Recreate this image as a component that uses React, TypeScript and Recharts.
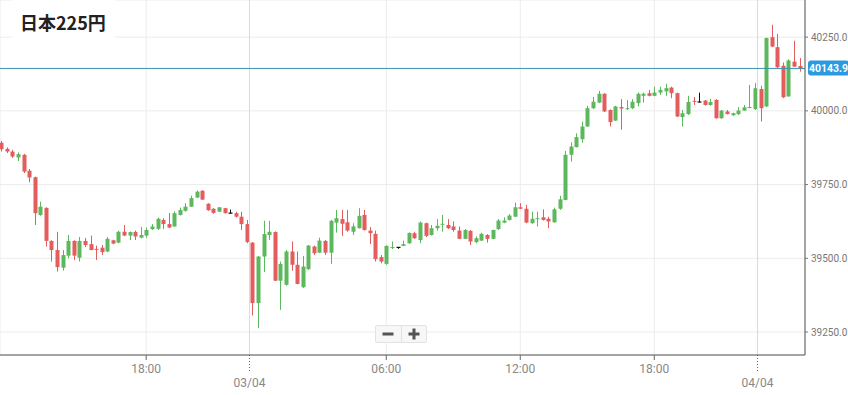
import React from 'react';
import { ComposedChart, Bar, XAxis, YAxis, CartesianGrid, ReferenceLine } from 'recharts';

// 15-minute candles
const opens = [
  39892, 39871, 39862, 39842, 39851, 39797, 39775, 39647, 39671, 39559,
  39528, 39468, 39509, 39559, 39502, 39559, 39548, 39532, 39536, 39523,
  39561, 39553, 39590, 39577, 39589, 39570, 39577, 39599, 39600, 39630,
  39616, 39608, 39647, 39661, 39675, 39706, 39729, 39685, 39668, 39658,
  39670, 39653, 39653, 39641, 39616, 39553, 39348, 39506, 39579, 39589,
  39424, 39410, 39523, 39478, 39402, 39463, 39540, 39519, 39559, 39519,
  39621, 39633, 39622, 39590, 39602, 39647, 39594, 39583, 39504, 39481,
  39536, 39537, 39542, 39551, 39585, 39562, 39619, 39579, 39602, 39616,
  39613, 39608, 39594, 39566, 39593, 39555, 39560, 39579, 39566, 39599,
  39621, 39630, 39641, 39673, 39668, 39619, 39633, 39639, 39634, 39622,
  39668, 39698, 39851, 39877, 39904, 39947, 40009, 40028, 40058, 40003,
  39967, 40013, 40006, 40009, 40026, 40051, 40060, 40051, 40062, 40066,
  40079, 40060, 39979, 39989, 40034, 40030, 40035, 40020, 40037, 39975,
  39998, 39985, 39989, 40001, 40010, 40006, 40074, 40015, 40250, 40216,
  40153, 40049, 40167, 40152,
];
const highs = [
  39898, 39876, 39868, 39859, 39854, 39803, 39777, 39692, 39673, 39561,
  39590, 39528, 39579, 39561, 39572, 39569, 39577, 39543, 39545, 39572,
  39563, 39594, 39613, 39591, 39594, 39606, 39604, 39616, 39638, 39636,
  39653, 39659, 39672, 39687, 39712, 39730, 39731, 39687, 39670, 39674,
  39671, 39665, 39658, 39658, 39630, 39555, 39508, 39627, 39627, 39591,
  39489, 39528, 39557, 39523, 39508, 39545, 39543, 39570, 39562, 39630,
  39664, 39664, 39664, 39619, 39670, 39664, 39606, 39594, 39511, 39544,
  39557, 39538, 39560, 39588, 39590, 39625, 39621, 39613, 39633, 39647,
  39633, 39625, 39608, 39599, 39596, 39574, 39587, 39582, 39597, 39633,
  39639, 39650, 39689, 39687, 39681, 39658, 39658, 39666, 39641, 39672,
  39712, 39864, 39893, 39924, 39964, 40017, 40047, 40068, 40060, 40005,
  40017, 40040, 40037, 40040, 40062, 40062, 40071, 40082, 40082, 40092,
  40082, 40062, 40003, 40051, 40047, 40062, 40037, 40041, 40040, 40003,
  40003, 39994, 40013, 40020, 40088, 40094, 40085, 40249, 40292, 40261,
  40164, 40175, 40238, 40179,
];
const lows = [
  39862, 39857, 39840, 39830, 39789, 39758, 39613, 39644, 39540, 39489,
  39455, 39458, 39500, 39494, 39489, 39538, 39527, 39494, 39511, 39521,
  39548, 39551, 39575, 39562, 39562, 39568, 39570, 39596, 39596, 39599,
  39603, 39607, 39645, 39658, 39674, 39705, 39698, 39661, 39651, 39657,
  39652, 39652, 39638, 39596, 39551, 39306, 39263, 39453, 39562, 39423,
  39325, 39407, 39458, 39412, 39399, 39461, 39511, 39518, 39511, 39481,
  39587, 39576, 39590, 39579, 39601, 39594, 39548, 39489, 39483, 39478,
  39531, 39532, 39541, 39549, 39566, 39551, 39572, 39577, 39594, 39590,
  39599, 39590, 39565, 39565, 39545, 39551, 39559, 39553, 39565, 39596,
  39619, 39628, 39640, 39667, 39619, 39617, 39608, 39628, 39602, 39621,
  39664, 39697, 39828, 39876, 39892, 39946, 40006, 40026, 39996, 39947,
  39966, 39936, 40003, 40006, 40015, 40028, 40049, 40050, 40054, 40051,
  40043, 39979, 39947, 39986, 40020, 40029, 40018, 40018, 39973, 39973,
  39988, 39983, 39986, 40000, 40009, 40003, 39964, 40013, 40216, 40145,
  40043, 40048, 40149, 40133,
];
const closes = [
  39870, 39862, 39845, 39853, 39794, 39774, 39653, 39675, 39559, 39528,
  39470, 39511, 39559, 39509, 39559, 39545, 39528, 39530, 39521, 39566,
  39550, 39590, 39577, 39589, 39574, 39579, 39596, 39608, 39634, 39616,
  39604, 39653, 39664, 39675, 39704, 39726, 39699, 39663, 39654, 39673,
  39653, 39653, 39641, 39616, 39555, 39348, 39506, 39582, 39590, 39424,
  39481, 39523, 39478, 39413, 39472, 39543, 39517, 39560, 39519, 39627,
  39636, 39617, 39594, 39608, 39644, 39596, 39585, 39497, 39489, 39542,
  39538, 39537, 39548, 39586, 39568, 39621, 39576, 39602, 39610, 39617,
  39602, 39596, 39566, 39596, 39557, 39568, 39583, 39566, 39596, 39628,
  39628, 39645, 39673, 39668, 39621, 39634, 39636, 39630, 39625, 39666,
  39700, 39851, 39879, 39911, 39947, 40009, 40031, 40058, 39998, 39962,
  40015, 40008, 40009, 40031, 40058, 40058, 40051, 40062, 40071, 40077,
  40060, 39981, 39992, 40030, 40031, 40030, 40020, 40030, 39975, 40001,
  39989, 39992, 40001, 40012, 40013, 40077, 40009, 40247, 40218, 40148,
  40046, 40171, 40150, 40143.9,
];

const timeTicks = [26, 69, 93, 117];
const timeLabels = ['18:00', '06:00', '12:00', '18:00'];
const dateTicks = [44.5, 135.5];
const dateLabels = ['03/04', '04/04'];
const priceTicks = [39250, 39500, 39750, 40000, 40250];
const lastPrice = 40143.9;

const UP = '#5cb85c';
const DOWN = '#e35d5d';
const FLAT = '#111';

const rows = opens.map((o, i) => ({
  i,
  open: o,
  high: highs[i],
  low: lows[i],
  close: closes[i],
  range: [lows[i], highs[i]],
}));

const Candle = (props: any) => {
  const { x, y, width, height, payload } = props;
  if (x == null || y == null) return null;
  const { open, close, high, low } = payload;
  const k = height / (high - low);
  const cx = Math.round(x + width / 2);
  const top = y + (high - Math.max(open, close)) * k;
  const bot = y + (high - Math.min(open, close)) * k;
  const color = close > open ? UP : close < open ? DOWN : FLAT;
  return (
    <g>
      <line x1={cx + 0.5} x2={cx + 0.5} y1={y} y2={y + height} stroke={color} strokeWidth={1} />
      {close === open ? (
        <line x1={cx - 1.5} x2={cx + 2.5} y1={top} y2={top} stroke={color} strokeWidth={1.2} />
      ) : (
        <rect x={cx - 1.5} y={top} width={4} height={Math.max(bot - top, 1)} fill={color} />
      )}
    </g>
  );
};

const XTick = (props: any) => {
  const { x, y, payload } = props;
  const v = payload.value;
  const di = dateTicks.indexOf(v);
  if (di >= 0) {
    return (
      <g>
        <line x1={x} x2={x} y1={y} y2={y + 18} stroke="#666" strokeDasharray="1 2" />
        <text x={x} y={y + 32} textAnchor="middle" fontSize={12} fill="#888" fontFamily="Roboto">
          {dateLabels[di]}
        </text>
      </g>
    );
  }
  const ti = timeTicks.indexOf(v);
  return (
    <g>
      <line x1={x} x2={x} y1={y} y2={y + 5} stroke="#666" />
      <text x={x} y={y + 18} textAnchor="middle" fontSize={12} fill="#888" fontFamily="Roboto">
        {ti >= 0 ? timeLabels[ti] : ''}
      </text>
    </g>
  );
};

const YTick = (props: any) => {
  const { x, y, payload } = props;
  return (
    <g>
      <line x1={x} x2={x + 3} y1={y} y2={y} stroke="#777" />
      <text x={x + 6} y={y + 3.5} fontSize={10} fill="#777" fontFamily="Roboto">
        {Number(payload.value).toFixed(1)}
      </text>
    </g>
  );
};

const PriceBadge = (props: any) => {
  const { viewBox } = props;
  const right = viewBox.x + viewBox.width;
  const cy = viewBox.y;
  return (
    <g>
      <rect x={right + 3} y={cy - 8} width={41} height={15} rx={3} fill="#2b9ae0" />
      <text x={right + 23.5} y={cy + 3.5} textAnchor="middle" fontSize={10.5} fontWeight={700} fill="#fff" fontFamily="Roboto">
        {lastPrice.toFixed(1)}
      </text>
    </g>
  );
};

const bar = (w: number, h: number) => ({ position: 'absolute' as const, width: w, height: h, background: '#555', left: '50%', top: '50%', transform: 'translate(-50%, -50%)' });

export default function App() {
  return (
    <div style={{ position: 'fixed', left: 0, top: 0, width: 848, height: 395, background: '#fff', fontFamily: 'Roboto' }}>
      <ComposedChart width={848} height={395} data={rows} margin={{ top: 0, right: 0, left: 0, bottom: 0 }}>
        <CartesianGrid stroke="#ececec" />
        <XAxis
          dataKey="i"
          type="number"
          domain={[-0.18, 144]}
          allowDataOverflow
          ticks={[...timeTicks, ...dateTicks].sort((a, b) => a - b)}
          interval={0}
          height={40}
          tickSize={0}
          tickMargin={0}
          tick={<XTick />}
          axisLine={{ stroke: '#555' }}
        />
        <YAxis
          orientation="right"
          width={43}
          domain={[39172, 40376]}
          allowDataOverflow
          ticks={priceTicks}
          tickSize={0}
          tickMargin={0}
          tick={<YTick />}
          axisLine={{ stroke: '#555' }}
        />
        {dateTicks.map((d) => (
          <ReferenceLine key={d} x={d} stroke="#dadada" />
        ))}
        <Bar dataKey="range" barSize={4} shape={<Candle />} isAnimationActive={false} />
        <ReferenceLine y={lastPrice} stroke="#3a92b3" label={<PriceBadge />} />
      </ComposedChart>
      <div
        style={{
          position: 'absolute', left: 12, top: 0, width: 103, height: 40, background: '#fff',
          fontFamily: '"Noto Sans CJK JP", Roboto, sans-serif', fontWeight: 700, fontSize: 18,
          color: '#222', lineHeight: '44px', paddingLeft: 8, boxSizing: 'border-box',
        }}
      >
        日本225円
      </div>
      <div
        style={{
          position: 'absolute', left: 375, top: 325, width: 52, height: 18, display: 'flex',
          border: '1px solid #e2e2e2', background: '#f7f7f7', borderRadius: 2, boxSizing: 'border-box',
        }}
      >
        <div style={{ flex: 1, position: 'relative', borderRight: '1px solid #e2e2e2' }}>
          <div style={bar(11, 3)} />
        </div>
        <div style={{ flex: 1, position: 'relative' }}>
          <div style={bar(11, 3)} />
          <div style={bar(3, 11)} />
        </div>
      </div>
    </div>
  );
}
